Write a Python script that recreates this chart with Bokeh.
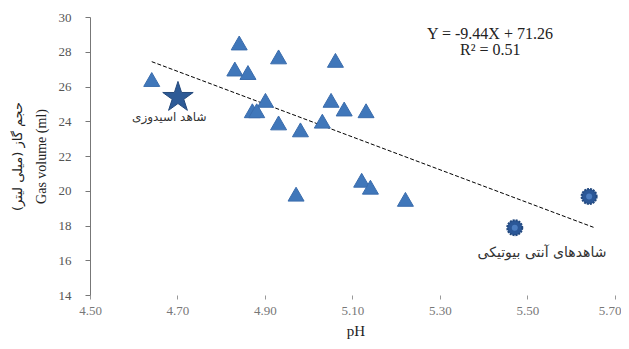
from bokeh.plotting import figure
from bokeh.models import Label, LinearAxis, FixedTicker, Range1d
from bokeh.embed import file_html
from bokeh.resources import INLINE

# Data
tri_ph = [4.64, 4.84, 4.83, 4.86, 4.93, 5.06, 4.90, 4.87, 4.88, 4.93, 4.98, 5.05, 5.08, 5.03, 5.13, 4.97, 5.12, 5.14, 5.22]
tri_gas = [26.3, 28.4, 26.9, 26.7, 27.6, 27.4, 25.1, 24.5, 24.5, 23.8, 23.4, 25.1, 24.6, 23.9, 24.5, 19.7, 20.5, 20.1, 19.4]
star_ph = [4.70]
star_gas = [25.4]
burst_ph = [5.47, 5.64]
burst_gas = [17.9, 19.7]
slope = -9.44
intercept = 71.26
trend_ph = [4.64, 5.65]
trend_gas = [slope * v + intercept for v in trend_ph]
x_ticks = [4.5, 4.7, 4.9, 5.1, 5.3, 5.5, 5.7]
x_tick_labels = {4.5: "4.50", 4.7: "4.70", 4.9: "4.90", 5.1: "5.10", 5.3: "5.30", 5.5: "5.50", 5.7: "5.70"}
y_ticks = [14, 16, 18, 20, 22, 24, 26, 28, 30]

SERIF = "Liberation Serif"
ARAB = "DejaVu Sans"

p = figure(width=621, height=341, output_backend="svg", toolbar_location=None,
           x_range=Range1d(4.5, 5.714), y_range=Range1d(14, 30),
           min_border_left=90, min_border_right=0, min_border_top=17, min_border_bottom=10)
p.outline_line_color = None
p.xgrid.visible = False
p.ygrid.visible = False
p.background_fill_color = "white"

# x axis
xa = p.xaxis[0]
xa.ticker = FixedTicker(ticks=x_ticks)
xa.major_label_overrides = x_tick_labels
xa.axis_line_color = None
xa.major_tick_line_color = "#999999"
xa.major_tick_in = 0
xa.major_tick_out = 4
xa.minor_tick_line_color = None
xa.major_label_text_font = SERIF
xa.major_label_text_font_size = "13px"
xa.major_label_text_color = "#777777"
xa.major_label_standoff = 7
xa.axis_label = "pH"
xa.axis_label_text_font = SERIF
xa.axis_label_text_font_style = "normal"
xa.axis_label_text_font_size = "15px"
xa.axis_label_text_color = "#222222"
xa.axis_label_standoff = 5

# y axis
ya = p.yaxis[0]
ya.ticker = FixedTicker(ticks=y_ticks)
ya.axis_line_color = "#777777"
ya.major_tick_line_color = "#777777"
ya.major_tick_in = 0
ya.major_tick_out = 5
ya.minor_tick_line_color = None
ya.major_label_text_font = SERIF
ya.major_label_text_font_size = "13px"
ya.major_label_text_color = "#555555"
ya.major_label_standoff = 14
ya.axis_label = "Gas volume (ml)"
ya.axis_label_text_font = SERIF
ya.axis_label_text_font_style = "normal"
ya.axis_label_text_font_size = "14px"
ya.axis_label_text_color = "#222222"
ya.axis_label_standoff = 7

# extra left axis carrying the Persian label
ya2 = LinearAxis(ticker=FixedTicker(ticks=[]), axis_line_color=None,
                 major_tick_line_color=None, minor_tick_line_color=None,
                 major_label_text_font_size="0px",
                 axis_label="حجم گاز (میلی لیتر)", axis_label_text_font=ARAB,
                 axis_label_text_font_style="normal", axis_label_text_font_size="13px",
                 axis_label_text_color="#222222", axis_label_standoff=6)
p.add_layout(ya2, "left")

# trend line
p.line(trend_ph, trend_gas, line_color="black", line_width=1, line_dash="4 2")

# triangles
p.scatter(tri_ph, tri_gas, marker="triangle", size=16, fill_color="#4077BA", line_color="#3A6CAC", line_width=1)

# star
p.scatter(star_ph, star_gas, marker="star", size=32, fill_color="#2D5A96", line_color="#24497C", line_width=1)

# bursts
p.scatter(burst_ph, burst_gas, marker="circle", size=15, fill_color="#2B5797", line_color="#23497F", line_width=2, line_dash="2 1")
p.scatter(burst_ph, burst_gas, marker="circle", size=6, fill_color="#4C7DC0", line_color=None)

# equation
p.add_layout(Label(x=5.414, y=29.1, text="Y = -9.44X + 71.26", text_font=SERIF, text_font_size="16px",
                   text_color="#222222", text_align="center", text_baseline="middle"))
p.add_layout(Label(x=5.414, y=28.15, text="R² = 0.51", text_font=SERIF, text_font_size="16px",
                   text_color="#222222", text_align="center", text_baseline="middle"))

# annotations
p.add_layout(Label(x=4.68, y=24.25, text="شاهد اسیدوزی", text_font=ARAB, text_font_size="12px",
                   text_color="#333333", text_align="center", text_baseline="middle"))
p.add_layout(Label(x=5.385, y=16.5, text="شاهدهای آنتی بیوتیکی", text_font=ARAB, text_font_size="14px",
                   text_color="#333333", text_align="left", text_baseline="middle"))

open("out.html", "w").write(file_html(p, INLINE))
